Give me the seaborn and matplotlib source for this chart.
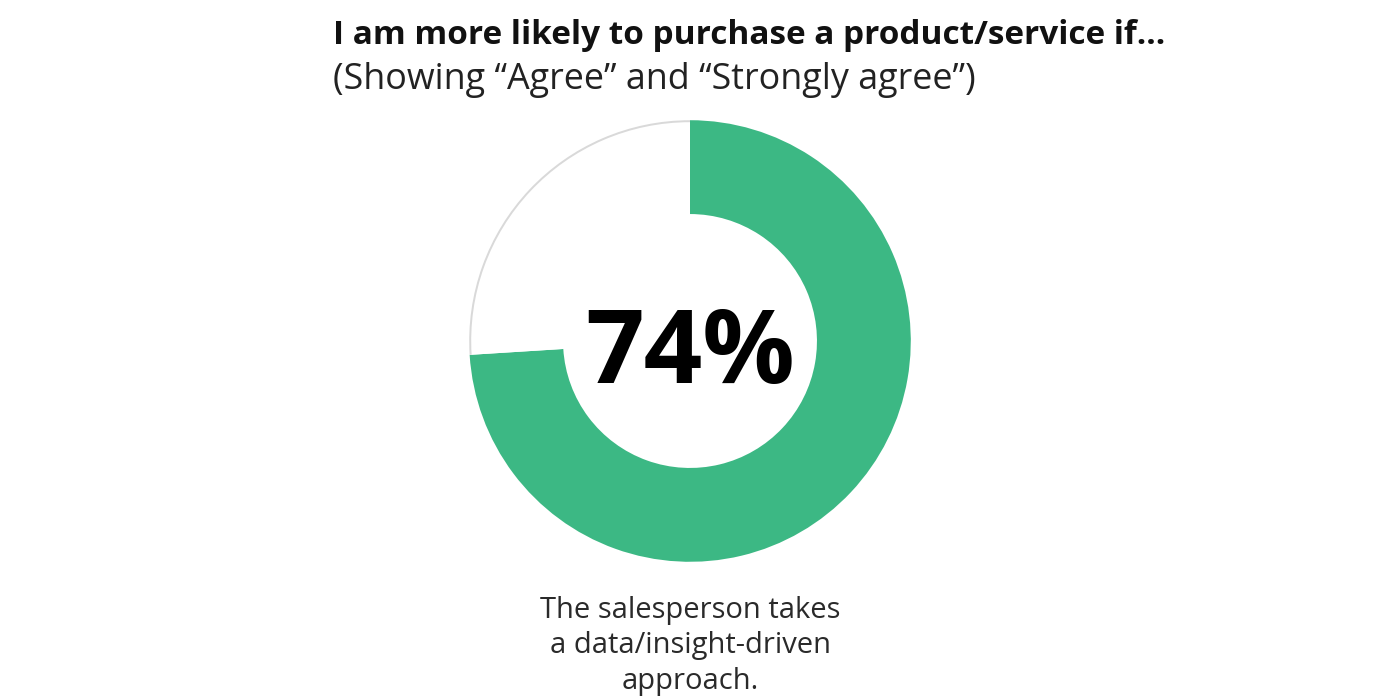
import matplotlib
matplotlib.use('Agg')
import matplotlib.pyplot as plt
import seaborn as sns

# chart data
labels = ['Agree / Strongly agree', 'Other']
shares = [74, 26]
center_label = '74%'
title = 'I am more likely to purchase a product/service if...'
subtitle = '(Showing \u201cAgree\u201d and \u201cStrongly agree\u201d)'
caption = 'The salesperson takes\na data/insight-driven\napproach.'

GREEN = '#3cb884'
RING_GREY = '#d9d9d9'


def main():
    sns.set_theme(style='white')
    plt.rcParams['font.family'] = ['Open Sans', 'DejaVu Sans']

    fig = plt.figure(figsize=(14, 7), dpi=100)
    fig.patch.set_facecolor('white')

    # donut axes: centre (690, 341) px, radius 223 px
    cx, cy, r = 690, 341, 223
    ax = fig.add_axes([(cx - r) / 1400, (700 - cy - r) / 700, 2 * r / 1400, 2 * r / 700])

    ax.pie(shares, colors=[GREEN, 'white'], startangle=90, counterclock=False,
           radius=1.0, wedgeprops=dict(width=0.425, linewidth=0))
    # thin grey outline on the outer edge of the remainder
    ax.pie(shares, colors=['none', RING_GREY], startangle=90, counterclock=False,
           radius=1.0, wedgeprops=dict(width=0.009, linewidth=0))
    ax.set_xlim(-1.01, 1.01)
    ax.set_ylim(-1.01, 1.01)
    ax.set_aspect('equal')
    ax.axis('off')

    ax.text(0, -0.07, center_label, ha='center', va='center', fontsize=74,
            fontweight='bold', color='black')

    fig.text(333 / 1400, 1 - 36 / 700, title, ha='left', va='center',
             fontsize=24, fontweight='bold', color='#111111')
    fig.text(333 / 1400, 1 - 80 / 700, subtitle, ha='left', va='center',
             fontsize=25.8, color='#222222')
    fig.text(690 / 1400, 1 - 646 / 700, caption, ha='center', va='center',
             fontsize=21, color='#2a2a2a', linespacing=1.3)

    fig.savefig('out.png', dpi=100, facecolor='white')


if __name__ == '__main__':
    main()
